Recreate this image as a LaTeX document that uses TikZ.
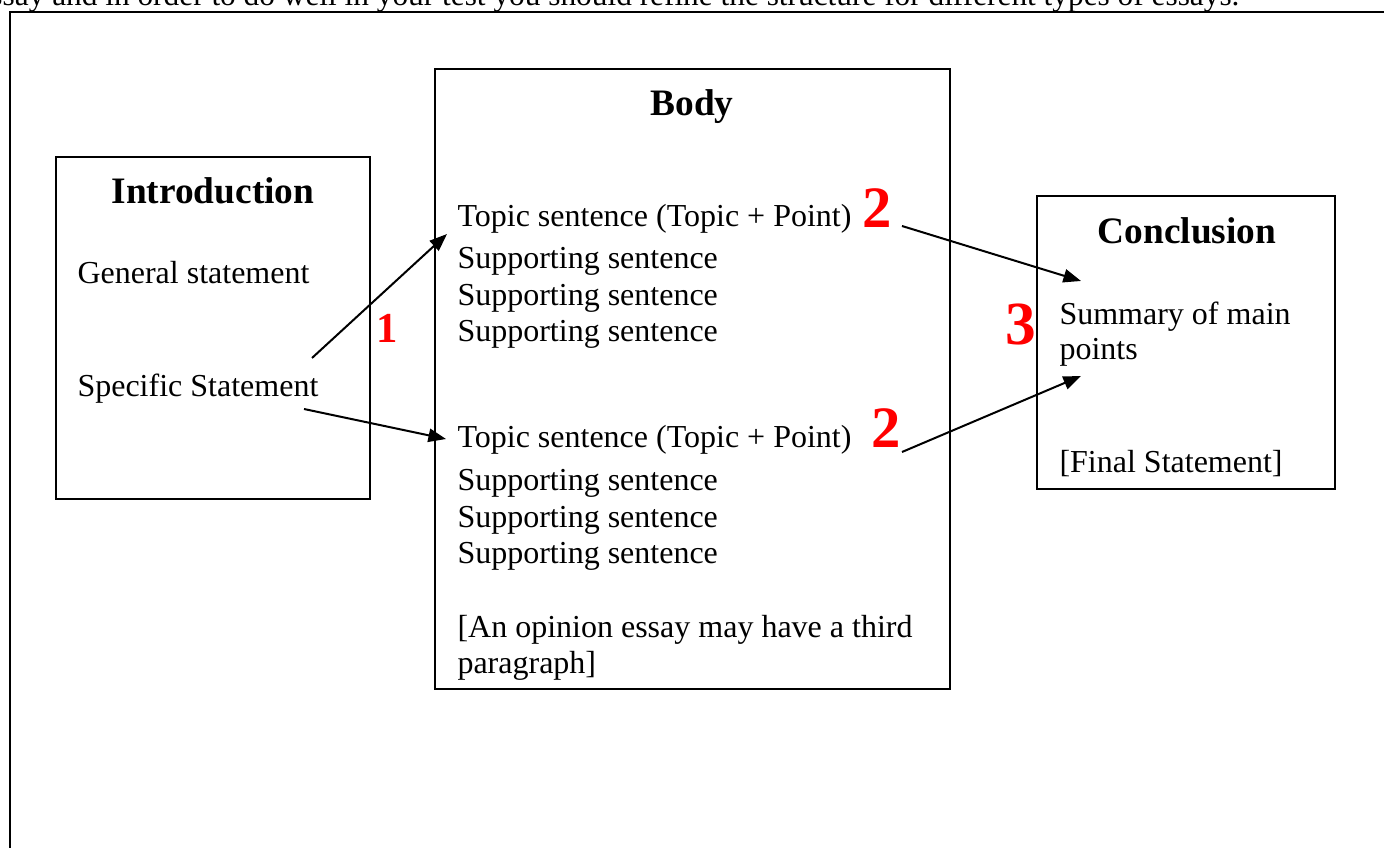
\documentclass[tikz,border=0pt]{standalone}
\usepackage{fontspec}
\setmainfont{Liberation Serif}
\usetikzlibrary{fit,arrows.meta}
\begin{document}
\begin{tikzpicture}[x=0.375pt,y=-0.375pt,
  frame/.style={line width=0.8pt},
  box/.style={draw, line width=0.75pt, inner sep=0pt},
  txt/.style={anchor=base west, inner sep=0pt, font=\fontsize{12}{14}\selectfont},
  head/.style={anchor=base, inner sep=0pt, font=\fontsize{14}{16}\selectfont\bfseries},
  num/.style={anchor=base west, inner sep=0pt, text=red},
  arr/.style={-{Triangle[length=6.6pt,width=5pt]}, line width=0.75pt},
]
\useasboundingbox (0,0) rectangle (1384,848);
\clip (0,0) rectangle (1384,848);

% cut-off line of text above the frame
\node[anchor=base east, inner sep=0pt, font=\fontsize{11.75}{14}\selectfont] (top) at (1240,6)
  {essay and in order to do well in your test you should refine the structure for different types of essays.};

% outer frame
\coordinate (fbl) at (10,860);
\coordinate (ftl) at (10,12);
\coordinate (ftr) at (1400,12);
\draw[frame] (fbl) -- (ftl) -- (ftr);

% boxes
\node[box, fit={(56,157) (370,499)}] (intro) {};
\node[box, fit={(435,69) (950,689)}] (body) {};
\node[box, fit={(1037,196) (1335,489)}] (concl) {};

% introduction
\node[head] (ih) at (213,204) {Introduction};
\node[txt] (gen) at (77,284) {General statement};
\node[txt] (spec) at (77,396) {Specific Statement};

% body
\node[head] (bh) at (692,116) {Body};
\node[txt] (t1) at (457,227) {Topic sentence (Topic + Point)};
\node[txt] (s11) at (457,269) {Supporting sentence};
\node[txt] (s12) at (457,306) {Supporting sentence};
\node[txt] (s13) at (457,342) {Supporting sentence};
\node[txt] (t2) at (457,447) {Topic sentence (Topic + Point)};
\node[txt] (s21) at (457,490) {Supporting sentence};
\node[txt] (s22) at (457,527) {Supporting sentence};
\node[txt] (s23) at (457,563) {Supporting sentence};
\node[txt] (op1) at (457,637) {[An opinion essay may have a third};
\node[txt] (op2) at (457,673) {paragraph]};

% conclusion
\node[head] (ch) at (1187,244) {Conclusion};
\node[txt] (sum1) at (1059,324) {Summary of main};
\node[txt] (sum2) at (1059,360) {points};
\node[txt] (fin) at (1059,472) {[Final Statement]};

% red numbers
\node[num, font=\fontsize{16}{18}\selectfont\bfseries] (n1) at (376,343) {1};
\node[num, font=\fontsize{22}{24}\selectfont\bfseries] (n2a) at (862,228) {2};
\node[num, font=\fontsize{22}{24}\selectfont\bfseries] (n2b) at (871,447) {2};
\node[num, font=\fontsize{23}{25}\selectfont\bfseries] (n3) at (1005,345) {3};

% arrow end points
\coordinate (a1s) at (312,358);
\coordinate (a1e) at (447,234);
\coordinate (a2s) at (304,409);
\coordinate (a2e) at (446,439);
\coordinate (a3s) at (902,226);
\coordinate (a3e) at (1081,281);
\coordinate (a4s) at (902,452);
\coordinate (a4e) at (1081,376);

\draw[arr] (a1s) -- (a1e);
\draw[arr] (a2s) -- (a2e);
\draw[arr] (a3s) -- (a3e);
\draw[arr] (a4s) -- (a4e);
\end{tikzpicture}
\end{document}
